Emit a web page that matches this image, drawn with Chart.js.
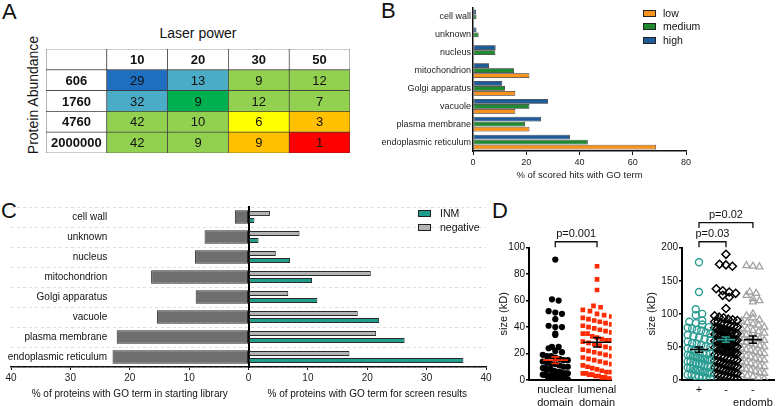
<!DOCTYPE html>
<html>
<head>
<meta charset="utf-8">
<title>GO term screen</title>
<script src="https://cdn.jsdelivr.net/npm/chart.js@4.4.1/dist/chart.umd.min.js"></script>
<style>
  body { margin:0; background:#fff; font-family:'Liberation Sans', Arial, sans-serif; color:#111; }
  #page { position:relative; width:780px; height:406px; overflow:hidden; }
  .abs { position:absolute; }
  .panel { font-size:22px; line-height:22px; }
  .leg { position:absolute; font-size:10.5px; line-height:14px; }
  .sw { position:absolute; width:11px; height:5px; border:1px solid #222; }
</style>
</head>
<body>
<div id="page">
  <div class="abs panel" style="left:2px;top:1px">A</div>
  <div class="abs panel" style="left:381px;top:0px">B</div>
  <div class="abs panel" style="left:1px;top:200px">C</div>
  <div class="abs panel" style="left:492px;top:200px">D</div>

  <div class="abs" style="left:98px;top:25px;width:200px;text-align:center;font-size:14px">Laser power</div>
  <div class="abs" style="left:-37px;top:87px;width:140px;text-align:center;font-size:14px;transform:rotate(-90deg)">Protein Abundance</div>

  <canvas id="heat" class="abs" style="left:46px;top:49px" width="304" height="104"></canvas>
  <canvas id="goB" class="abs" style="left:380px;top:0" width="320" height="185"></canvas>
  <canvas id="goC" class="abs" style="left:0;top:200px" width="500" height="206"></canvas>
  <canvas id="sizeD1" class="abs" style="left:497px;top:200px" width="123" height="206"></canvas>
  <canvas id="sizeD2" class="abs" style="left:645px;top:200px" width="135" height="206"></canvas>

  <div class="sw" style="left:643px;top:10px;background:#f7931e"></div><div class="leg" style="left:663px;top:6px">low</div>
  <div class="sw" style="left:643px;top:23px;background:#1f8a2f"></div><div class="leg" style="left:663px;top:19px">medium</div>
  <div class="sw" style="left:643px;top:37px;background:#1f5c99"></div><div class="leg" style="left:663px;top:33px">high</div>

  <div class="sw" style="left:418px;top:210px;background:#1f9e8c"></div><div class="leg" style="left:440px;top:206px">INM</div>
  <div class="sw" style="left:418px;top:224px;background:#b3b3b3"></div><div class="leg" style="left:440px;top:220px">negative</div>
</div>
<script>
// panel A - hits by laser power and protein abundance
const laserPower = ['10', '20', '30', '50'];
const abundance = ['606', '1760', '4760', '2000000'];
const hitCounts = [
  [29, 13, 9, 12],
  [32, 9, 12, 7],
  [42, 10, 6, 3],
  [42, 9, 9, 1]
];

// panel B - GO terms of scored hits
const goTerms = ['cell wall', 'unknown', 'nucleus', 'mitochondrion', 'Golgi apparatus', 'vacuole', 'plasma membrane', 'endoplasmic reticulum'];
const hitsLow = [null, null, null, 21.2, 15.9, 15.9, 21.2, 68.8];
const hitsMedium = [1.3, 2.1, 8.4, 15.4, 12.0, 21.2, 19.6, 43.1];
const hitsHigh = [1.2, 1.3, 8.5, 6.0, 11.0, 28.2, 25.6, 36.4];
const hitTicks = [0, 20, 40, 60, 80];

// panel C - library vs screen results
const libraryPct = [2.3, 7.4, 9.0, 16.4, 8.9, 15.4, 22.2, 22.9];
const negativePct = [3.6, 8.6, 4.6, 20.6, 6.7, 18.4, 21.5, 17.0];
const inmPct = [1.0, 1.7, 7.0, 10.7, 11.6, 22.0, 26.3, 36.2];

// panel D - protein size (kD)
const domainLabels = [['nuclear', 'domain'], ['lumenal', 'domain']];
const nuclearKD = [91, 61, 60, 52, 51, 50, 46, 41, 40, 40, 35, 34, 25, 25, 24, 22, 21, 19, 18, 18, 17, 16, 15, 15, 14, 13, 12, 12, 11, 10, 10, 9, 9, 8, 8, 8, 7, 7, 6, 6, 6, 5, 5, 5, 5, 4, 4, 4, 3, 3, 3, 3, 2, 2, 2, 2, 1, 1, 1, 1, 0.5, 0.5, 0.5];
const lumenalKD = [86, 76, 68, 56, 55, 53, 52, 50, 49, 48, 47, 46, 45, 44, 43, 42, 41, 40, 39, 38, 37, 36, 35, 35, 33, 32, 31, 30, 30, 29, 28, 27, 26, 25, 24, 23, 22, 21, 20, 19, 18, 17, 16, 15, 14, 13, 12, 11, 10, 9, 8, 7, 6, 6, 5, 5, 4, 4, 3, 3, 2, 2, 1, 1];
const domainMean = [15, 28.5];
const domainSem = [2.5, 3.5];

const tagLabels = [['+'], ['-'], ['-', 'endomb']];
const tagPlusKD = [178, 133, 107, 100, 98, 90, 88, 86, 84, 80, 79, 78, 76, 75, 72, 70, 68, 66, 64, 62, 60, 58, 56, 55, 53, 51, 50, 48, 46, 45, 43, 41, 40, 40, 38, 37, 36, 35, 34, 33, 32, 31, 30, 30, 28, 28, 27, 26, 25, 24, 22, 22, 20, 19, 18, 17, 15, 15, 14, 12, 12, 10, 10, 8, 8, 6, 5, 5, 3, 2];
const tagMinusKD = [190, 175, 174, 172, 138, 135, 133, 131, 128, 125, 108, 97, 95, 94, 92, 91, 90, 88, 88, 86, 85, 84, 82, 81, 80, 79, 78, 77, 76, 75, 74, 73, 72, 70, 70, 69, 68, 67, 66, 65, 64, 63, 62, 61, 60, 60, 59, 58, 57, 56, 55, 54, 53, 52, 51, 50, 49, 48, 47, 46, 45, 44, 43, 42, 41, 40, 38, 37, 36, 35, 33, 32, 31, 30, 29, 28, 27, 25, 24, 23, 22, 21, 20, 19, 18, 17, 15, 14, 13, 12, 11, 10, 9, 8, 7, 6, 5, 4, 3, 2];
const endombKD = [173, 172, 171, 133, 131, 128, 123, 120, 118, 100, 97, 94, 91, 89, 87, 85, 83, 80, 78, 77, 75, 73, 71, 69, 68, 66, 64, 62, 60, 58, 57, 55, 53, 52, 50, 48, 46, 45, 43, 41, 40, 38, 36, 35, 33, 31, 30, 28, 26, 25, 23, 21, 20, 18, 16, 15, 13, 11, 10, 8, 6, 5, 3, 2];
const tagMean = [46, 61, 61];
const tagSem = [4, 4, 5.5];

const FONT = "'Liberation Sans', Arial, sans-serif";
Chart.defaults.font.family = FONT;
Chart.defaults.color = '#111';
Chart.defaults.animation = false;

const cellColors = [
  ['#1f6fc0', '#4aacc6', '#92d050', '#92d050'],
  ['#4aacc6', '#00b050', '#92d050', '#92d050'],
  ['#92d050', '#92d050', '#ffff00', '#ffc000'],
  ['#92d050', '#92d050', '#ffc000', '#ff0000']
];

// writes the numbers into the table cells
const cellTextPlugin = {
  id: 'cellText',
  afterDatasetsDraw(chart) {
    const ctx = chart.ctx;
    ctx.save();
    ctx.textAlign = 'center';
    ctx.textBaseline = 'middle';
    ctx.fillStyle = '#111';
    chart.data.datasets.forEach((ds, i) => {
      chart.getDatasetMeta(i).data.forEach((bar, j) => {
        const p = bar.getProps(['x', 'y', 'base'], true);
        ctx.font = ((ds.header || j === 0) ? 'bold ' : '') + '13px ' + FONT;
        ctx.fillText(String(ds.cellText[j]), p.x, (p.y + p.base) / 2 + 1);
      });
    });
    ctx.restore();
  }
};

const tableRows = [['', ...laserPower]].concat(abundance.map((a, i) => [a, ...hitCounts[i]]));
const tableFill = [['#fff', '#fff', '#fff', '#fff', '#fff']].concat(cellColors.map(r => ['#fff', ...r]));

new Chart('heat', {
  type: 'bar',
  data: {
    labels: tableRows[0].map((_, j) => 'c' + j),
    datasets: tableRows.map((row, i) => ({
      data: row.map(() => 1),
      cellText: row,
      header: i === 0,
      backgroundColor: tableFill[i],
      borderColor: '#3a3a3a',
      borderWidth: 0.7,
      borderSkipped: false
    })).reverse()
  },
  options: {
    responsive: false,
    layout: { padding: 0 },
    datasets: { bar: { categoryPercentage: 1, barPercentage: 1 } },
    plugins: { legend: { display: false }, tooltip: { enabled: false } },
    scales: {
      x: { display: false, stacked: true },
      y: { display: false, stacked: true, min: 0, max: 5 }
    }
  },
  plugins: [cellTextPlugin]
});

// panel B
new Chart('goB', {
  type: 'bar',
  data: {
    labels: goTerms,
    datasets: [
      { label: 'high', data: hitsHigh, backgroundColor: '#1f5c99' },
      { label: 'medium', data: hitsMedium, backgroundColor: '#1f8a2f' },
      { label: 'low', data: hitsLow, backgroundColor: '#f7931e' }
    ]
  },
  options: {
    indexAxis: 'y',
    responsive: false,
    layout: { padding: { top: 8, right: 14, left: 0, bottom: 0 } },
    datasets: { bar: { categoryPercentage: 0.84, barPercentage: 0.96, borderWidth: 0.8, borderColor: '#222', borderSkipped: false } },
    plugins: { legend: { display: false }, tooltip: { enabled: false } },
    scales: {
      x: {
        min: 0, max: 80,
        afterBuildTicks: s => { s.ticks = hitTicks.map(v => ({ value: v })); },
        ticks: { font: { size: 9 }, color: '#222', padding: 2 },
        grid: { drawOnChartArea: false, tickLength: 4, color: '#111', lineWidth: 1 },
        border: { color: '#111', width: 1.5 },
        title: { display: true, text: '% of scored hits with GO term', font: { size: 9.5 }, color: '#222', padding: { top: 5 } },
        afterFit: s => { s.height = 34; }
      },
      y: {
        ticks: { font: { size: 9 }, color: '#222', padding: 2 },
        grid: { drawOnChartArea: false, drawTicks: false },
        border: { color: '#111', width: 1.5 },
        afterFit: s => { s.width = 93; }
      }
    }
  }
});

// panel C - category labels and two axis titles
const butterflyText = {
  id: 'butterflyText',
  afterDraw(chart, args, o) {
    const { ctx, chartArea, scales: { x, y } } = chart;
    ctx.save();
    ctx.fillStyle = '#111';
    ctx.font = '10px ' + FONT;
    ctx.textAlign = 'right';
    ctx.textBaseline = 'middle';
    chart.data.labels.forEach((l, i) => ctx.fillText(l, x.getPixelForValue(o.labelAt), y.getPixelForValue(i)));
    ctx.textAlign = 'center';
    o.titles.forEach(t => ctx.fillText(t.text, x.getPixelForValue(t.at), chartArea.bottom + 27));
    ctx.restore();
  }
};

new Chart('goC', {
  type: 'bar',
  data: {
    labels: goTerms,
    datasets: [
      { label: 'negative', data: negativePct, backgroundColor: '#b3b3b3', categoryPercentage: 0.7, barPercentage: 0.74 },
      { label: 'INM', data: inmPct, backgroundColor: '#1f9e8c', categoryPercentage: 0.7, barPercentage: 0.74 },
      { label: 'library', data: libraryPct.map(v => -v), backgroundColor: '#6e6e6e', grouped: false, categoryPercentage: 0.68, barPercentage: 1 }
    ]
  },
  options: {
    indexAxis: 'y',
    responsive: false,
    layout: { padding: { top: 7, right: 14, left: 11, bottom: 0 } },
    datasets: { bar: { borderWidth: 1, borderColor: '#2a2a2a', borderSkipped: false } },
    plugins: {
      legend: { display: false }, tooltip: { enabled: false },
      butterflyText: {
        labelAt: -23.8,
        titles: [
          { text: '% of proteins with GO term in starting library', at: -20 },
          { text: '% of proteins with GO term for screen results', at: 20 }
        ]
      }
    },
    scales: {
      x: {
        min: -40, max: 40,
        ticks: { stepSize: 10, font: { size: 10 }, color: '#222', padding: 2, callback: v => Math.abs(v) },
        grid: { drawOnChartArea: false, tickLength: 3, color: '#111' },
        border: { color: '#111', width: 1.5 },
        afterFit: s => { s.height = 39; }
      },
      y: {
        position: { x: 0 },
        offset: true,
        ticks: { display: false },
        grid: { offset: true, color: '#d4d4d4', lineWidth: 0.8, drawTicks: false },
        border: { color: '#000', width: 2, dash: [3, 3] }
      }
    }
  },
  plugins: [butterflyText]
});

// panel D helpers
function swarm(vals, cx, bin, step, maxHalf) {
  const bins = {};
  vals.forEach(v => {
    const k = Math.floor(v / bin);
    (bins[k] = bins[k] || []).push(v);
  });
  const pts = [];
  Object.values(bins).forEach(g => {
    const n = g.length;
    const s = n > 1 ? Math.min(step, 2 * maxHalf / (n - 1)) : 0;
    g.forEach((v, i) => pts.push({ x: cx + (i - (n - 1) / 2) * s, y: v }));
  });
  return pts;
}

const meanSemPlugin = {
  id: 'meanSem',
  afterDatasetsDraw(chart, args, o) {
    const { ctx, scales: { x, y } } = chart;
    ctx.save();
    ctx.lineWidth = 1.6;
    o.means.forEach((m, i) => {
      const cx = x.getPixelForValue(i + 1);
      const ym = y.getPixelForValue(m);
      const y0 = y.getPixelForValue(m - o.sems[i]);
      const y1 = y.getPixelForValue(m + o.sems[i]);
      ctx.strokeStyle = o.colors[i];
      ctx.beginPath();
      ctx.moveTo(cx - o.half[i], ym); ctx.lineTo(cx + o.half[i], ym);
      ctx.moveTo(cx, y0); ctx.lineTo(cx, y1);
      ctx.moveTo(cx - o.cap, y0); ctx.lineTo(cx + o.cap, y0);
      ctx.moveTo(cx - o.cap, y1); ctx.lineTo(cx + o.cap, y1);
      ctx.stroke();
    });
    ctx.restore();
  }
};

const bracketPlugin = {
  id: 'brackets',
  afterDraw(chart, args, o) {
    const { ctx, scales: { x, y } } = chart;
    ctx.save();
    ctx.strokeStyle = '#111';
    ctx.lineWidth = 1.3;
    ctx.fillStyle = '#111';
    ctx.font = '11px ' + FONT;
    ctx.textAlign = 'center';
    ctx.textBaseline = 'bottom';
    o.items.forEach(b => {
      const xa = x.getPixelForValue(b.from), xb = x.getPixelForValue(b.to);
      const yl = y.getPixelForValue(b.level);
      ctx.beginPath();
      ctx.moveTo(xa, yl + 5.5); ctx.lineTo(xa, yl); ctx.lineTo(xb, yl); ctx.lineTo(xb, yl + 5.5);
      ctx.stroke();
      ctx.fillText(b.text, (xa + xb) / 2, yl - 2);
    });
    ctx.restore();
  }
};

function sizeAxes(maxY, step, xMax, labels, yWidth) {
  return {
    x: {
      min: 0.37, max: xMax,
      afterBuildTicks: s => { s.ticks = labels.map((_, i) => ({ value: i + 1 })); },
      ticks: { font: { size: 11 }, color: '#111', padding: 3, maxRotation: 0, callback: v => labels[Math.round(v) - 1] },
      grid: { drawOnChartArea: false, drawTicks: false },
      border: { color: '#000', width: 2 },
      afterFit: s => { s.height = 26; }
    },
    y: {
      min: 0, max: maxY,
      ticks: { stepSize: step, font: { size: 10 }, color: '#111', padding: 1 },
      grid: { drawOnChartArea: false, tickLength: 3, color: '#000', lineWidth: 1.5 },
      border: { color: '#000', width: 2 },
      title: { display: true, text: 'size (kD)', font: { size: 11 }, color: '#111', padding: 0 },
      afterFit: s => { s.width = yWidth; }
    }
  };
}

new Chart('sizeD1', {
  type: 'scatter',
  data: {
    datasets: [
      { data: swarm(nuclearKD, 1, 5, 0.16, 0.3), pointStyle: 'circle', pointRadius: 3.1, backgroundColor: '#000', borderColor: '#000', borderWidth: 0 },
      { data: swarm(lumenalKD, 2, 6, 0.17, 0.34), pointStyle: 'rect', pointRadius: 3.3, backgroundColor: '#ff2a00', borderColor: '#ff2a00', borderWidth: 0 }
    ]
  },
  options: {
    responsive: false,
    layout: { padding: { top: 47.7, right: 4, left: 0, bottom: 0 } },
    plugins: {
      legend: { display: false }, tooltip: { enabled: false },
      meanSem: { means: domainMean, sems: domainSem, colors: ['#ff2a00', '#000'], half: [12.5, 14], cap: 4 },
      brackets: { items: [{ from: 1, to: 2, level: 104.5, text: 'p=0.001' }] }
    },
    scales: sizeAxes(100, 20, 2.35, domainLabels, 32)
  },
  plugins: [meanSemPlugin, bracketPlugin]
});

new Chart('sizeD2', {
  type: 'scatter',
  data: {
    datasets: [
      { data: swarm(tagPlusKD, 1, 10, 0.24, 0.42), pointStyle: 'circle', pointRadius: 3.5, backgroundColor: 'rgba(0,0,0,0)', borderColor: '#2a9d92', borderWidth: 1.4 },
      { data: swarm(tagMinusKD, 2, 10, 0.24, 0.42), pointStyle: 'rectRot', pointRadius: 4, backgroundColor: 'rgba(0,0,0,0)', borderColor: '#000', borderWidth: 1.5 },
      { data: swarm(endombKD, 3, 10, 0.24, 0.42), pointStyle: 'triangle', pointRadius: 4, backgroundColor: 'rgba(0,0,0,0)', borderColor: '#a3a3a3', borderWidth: 1.3 }
    ]
  },
  options: {
    responsive: false,
    layout: { padding: { top: 47.7, right: 2, left: 0, bottom: 0 } },
    plugins: {
      legend: { display: false }, tooltip: { enabled: false },
      meanSem: { means: tagMean, sems: tagSem, colors: ['#000', '#2a9d92', '#000'], half: [9, 9, 9], cap: 4 },
      brackets: { items: [
        { from: 1, to: 3, level: 238, text: 'p=0.02' },
        { from: 1, to: 2, level: 209, text: 'p=0.03' }
      ] }
    },
    scales: sizeAxes(200, 50, 3.8, tagLabels, 37)
  },
  plugins: [meanSemPlugin, bracketPlugin]
});
</script>
</body>
</html>
